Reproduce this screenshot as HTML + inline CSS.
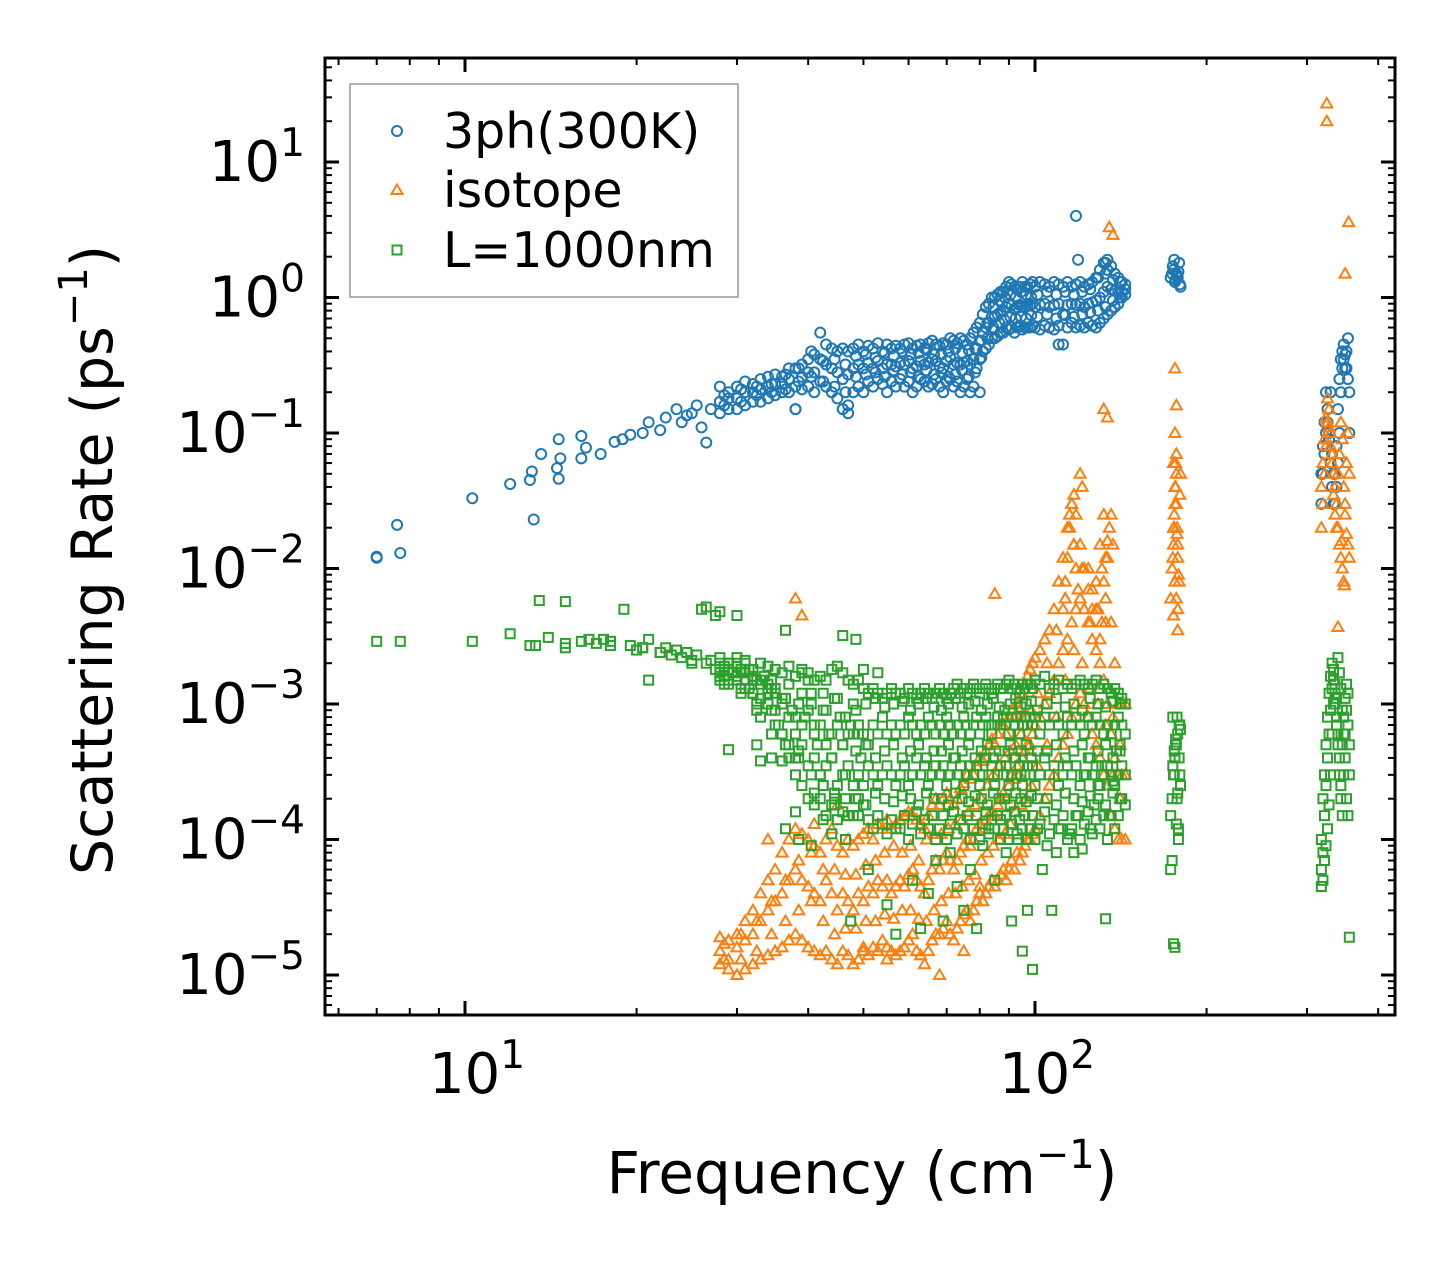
<!DOCTYPE html>
<html><head><meta charset="utf-8">
<style>
body{margin:0;background:#fff;}
svg text{font-family:"DejaVu Sans","Liberation Sans",sans-serif;fill:#000;}
</style></head>
<body>
<svg id="chart" width="1455" height="1265" viewBox="0 0 1455 1265" xmlns="http://www.w3.org/2000/svg">
<rect width="1455" height="1265" fill="#fff"/>
<g id="marks"></g>
<g id="axes"></g>
</svg>
<script>
// ---- shared band frequencies ----
const bandX=[28,29,30,31,32,33,34,35,36,37, 38,39,40,41,42,43,44,45,46,47, 48,49,50,51,52,53,54,55,56,57, 58,59,60,61,62,63,64,65,66,67, 68,69,70,71,72,73,74,75,76,77, 78,79,80,81,82,83,84,85,86,87, 88,89,90,91,92,93,94,95,96,97, 98,99,100,102,104,106,108,110,112,114, 116,118,120,122,124,126,128,130,132,134, 136,138,140,142,144];
const bandX2=[28.5,30.5,32.5,34.5,36.5,38.5,40.5,42.5,44.5,46.5, 48.5,50.5,52.5,54.5,56.5,58.5,60.5,62.5,64.5,66.5, 68.5,70.5,72.5,74.5,76.5,78.5,80.5,82.5,84.5,86.5, 88.5,90.5,92.5,94.5,96.5,98.5, 101,105,109,113,117,121,125,129,133,137,141];
// ---- 3ph(300K) ----
const bSparseX=[7,7,7.6,7.7,10.3,12,13,13.1,13.2,13.6,14.5,14.6,14.6,14.7,16,16,16.3,17.3,18.3,18.9,19.5,20.5,21,22,22.5,23.5,24,24.5,25,25.5,26,26.5,27,38,46,47,80,110,118,119,133,134];
const bSparseY=[.012,.0122,.021,.013,.033,.042,.045,.052,.023,.07,.055,.046,.09,.065,.065,.095,.078,.07,.086,.09,.097,.1,.12,.105,.13,.15,.12,.135,.14,.16,.11,.085,.15,.15,.15,.14,.2,.45,4.0,1.9,1.8,1.6];
const bLow=[.14,.15,.15,.16,.17,.17,.18,.19,.2,.2, .15,.21,.22,.2,.24,.22,.2,.18,.15,.16, .2,.22,.2,.24,.22,.25,.23,.2,.24,.22, .25,.22,.24,.2,.22,.25,.24,.22,.23,.25, .22,.2,.24,.25,.22,.24,.2,.22,.25,.2, .22,.3,.35,.4,.42,.45,.5,.5,.52,.55, .55,.6,.58,.6,.55,.6,.62,.58,.6,.6, .6,.62,.6,.58,.62,.6,.58,.62,.45,.6, .65,.6,.62,.6,.65,.62,.6,.65,.7,.75, .8,.85,.9,1.0,1.05];
const bMid=[.17,.18,.18,.2,.2,.21,.22,.23,.23,.25, .22,.26,.28,.28,.35,.32,.3,.28,.25,.27, .3,.32,.3,.33,.3,.34,.3,.32,.32,.31, .33,.32,.34,.3,.31,.34,.32,.33,.35,.34, .31,.3,.34,.36,.32,.33,.32,.33,.34,.32, .35,.42,.48,.55,.6,.65,.72,.72,.75,.78, .8,.85,.9,.88,.82,.85,.88,.86,.85,.88, .88,.9,.85,.88,.9,.85,.88,.9,.75,.88, .9,.88,.9,.85,.9,.92,.95,1.0,1.1,1.2, 1.15,1.12,1.1,1.1,1.15];
const bHigh=[.22,.2,.22,.24,.23,.25,.26,.27,.26,.3, .3,.32,.35,.38,.55,.45,.42,.4,.42,.4, .42,.45,.4,.44,.42,.46,.4,.45,.42,.44, .42,.45,.46,.42,.44,.45,.42,.46,.48,.45, .44,.46,.45,.5,.48,.46,.5,.48,.45,.5, .55,.6,.65,.75,.85,.9,1.0,1.0,1.05,1.1, 1.1,1.2,1.3,1.25,1.2,1.15,1.2,1.3,1.2,1.2, 1.25,1.3,1.2,1.3,1.25,1.2,1.3,1.25,1.2,1.3, 1.2,1.25,1.3,1.2,1.25,1.3,1.4,1.6,1.8,1.9, 1.7,1.5,1.4,1.3,1.25];
const bQ1=[.16,.17,.19,.2,.21,.24,.26,.24,.22,.2, .26,.27,.28,.26,.29,.27,.28,.26,.29,.27, .28,.26,.27,.29,.26,.28,.36,.5,.6,.65, .68,.72,.7,.72,.7,.74, .72,.75,.7,.74,.72,.75,.78,.8,.85,.95,1.0];
const bQ2=[.19,.21,.22,.23,.27,.3,.4,.34,.35,.32, .37,.38,.36,.39,.37,.4,.38,.39,.41,.38, .38,.4,.42,.39,.41,.42,.48,.65,.85,.95, 1.0,1.05,1.0,1.1,1.05,1.0, 1.05,1.1,1.05,1.1,1.05,1.1,1.15,1.4,1.5,1.35,1.3];
// ---- isotope ----
const ox=[38,39,41,34,45,50,55,62,68,75,80,85,
112,113,114,115,116,117,118,119,113,115,117,120,121,124,126,128,130,131,132,133,134,135,136,137,131,133,135,137,132,134,
175,175.5,176,176.5,177,177.5,178,175,176,177,178,176,177,176,177,175,178,
325,325,350,355,349,340,345];
const oy=[6e-3,4.5e-3,1.3e-4,1e-4,1.8e-4,1.6e-5,1.3e-5,1.5e-5,1e-5,1.5e-5,4.5e-5,6.5e-3,
0.005,0.008,0.012,0.02,0.03,0.015,0.01,0.007,0.006,0.025,0.035,0.05,0.04,0.01,0.007,0.005,0.003,0.004,0.008,0.012,0.016,0.02,0.025,0.015,0.01,0.006,3.3,2.9,0.15,0.13,
0.015,0.02,0.03,0.04,0.05,0.02,0.012,0.06,0.008,0.006,0.005,0.3,0.16,0.1,0.07,0.0045,0.0035,
27,20,1.5,3.6,0.0075,0.0037,0.016];
const oLow=[1.2e-5,1.1e-5,1e-5,1.1e-5,1.2e-5,1.3e-5,1.4e-5,1.5e-5,1.6e-5,1.8e-5, 2e-5,1.8e-5,1.6e-5,1.5e-5,1.4e-5,1.5e-5,1.3e-5,1.2e-5,1.5e-5,1.4e-5, 1.2e-5,1.3e-5,1.5e-5,1.4e-5,1.6e-5,1.5e-5,1.8e-5,1.6e-5,1.5e-5,1.4e-5, 1.5e-5,1.6e-5,1.8e-5,2e-5,1.5e-5,1.4e-5,1.2e-5,1.5e-5,1.8e-5,2e-5, 2e-5,2.2e-5,2.5e-5,2e-5,1.8e-5,2.2e-5,2.5e-5,2.8e-5,3e-5,2.5e-5, 3e-5,3.5e-5,4e-5,3.5e-5,4e-5,4.5e-5,5e-5,4.5e-5,5e-5,5.5e-5, 6e-5,5e-5,6e-5,7e-5,6e-5,8e-5,7e-5,8e-5,9e-5,1e-4, 1e-4,1.1e-4,1.2e-4,1.5e-4,2e-4,2.5e-4,3e-4,4e-4,5e-4,6e-4, 8e-4,1e-3,1.2e-3,1e-3,8e-4,6e-4,5e-4,4e-4,3e-4,2.5e-4, 1.5e-4,1.2e-4,1e-4,1e-4,1e-4];
const oMid=[1.5e-5,1.3e-5,1.6e-5,1.8e-5,2e-5,2.5e-5,3e-5,3.5e-5,4e-5,5e-5, 6e-5,5e-5,4.5e-5,4e-5,3.5e-5,5e-5,4e-5,3e-5,4e-5,3.5e-5, 3e-5,4e-5,3.5e-5,4.5e-5,4e-5,5e-5,4.5e-5,5e-5,4e-5,4.5e-5, 5e-5,4.5e-5,5.5e-5,6e-5,5e-5,4.5e-5,4e-5,5e-5,6e-5,7e-5, 6e-5,7e-5,8e-5,7e-5,6e-5,7e-5,8e-5,9e-5,1e-4,9e-5, 1e-4,1.2e-4,1.3e-4,1.2e-4,1.4e-4,1.5e-4,1.6e-4,1.5e-4,1.8e-4,2e-4, 2.2e-4,2e-4,2.5e-4,3e-4,2.8e-4,3.5e-4,3e-4,4e-4,4.5e-4,5e-4, 5e-4,6e-4,7e-4,8e-4,1e-3,1.2e-3,1.5e-3,2e-3,2.5e-3,3e-3, 4e-3,5e-3,6e-3,5e-3,4e-3,3e-3,2.5e-3,2e-3,1.5e-3,1e-3, 6e-4,4e-4,3e-4,3e-4,3e-4];
const oHigh=[1.9e-5,1.8e-5,2e-5,2.5e-5,3e-5,4e-5,5e-5,6e-5,8e-5,1e-4, 1.2e-4,1.1e-4,1e-4,9e-5,8e-5,1e-4,1.2e-4,9e-5,8e-5,1e-4, 9e-5,1e-4,1.1e-4,1.2e-4,1e-4,1.3e-4,1.2e-4,1.4e-4,1.2e-4,1.3e-4, 1.4e-4,1.5e-4,1.6e-4,1.5e-4,1.4e-4,1.3e-4,1.2e-4,1.5e-4,1.8e-4,2e-4, 1.8e-4,2e-4,2.2e-4,2e-4,1.8e-4,2e-4,2.4e-4,2.6e-4,3e-4,2.8e-4, 3e-4,3.5e-4,4e-4,3.8e-4,4.5e-4,5e-4,5.5e-4,5e-4,6e-4,7e-4, 7e-4,6e-4,8e-4,9e-4,8e-4,1e-3,9e-4,1.2e-3,1.4e-3,1.6e-3, 1.8e-3,2e-3,2.2e-3,2.5e-3,3e-3,3.5e-3,5e-3,8e-3,1.2e-2,2e-2, 3e-2,2.5e-2,1.5e-2,1e-2,7e-3,5e-3,8e-3,1.5e-2,2.5e-2,1.2e-2, 4e-3,2e-3,1e-3,1e-3,1e-3];
const oQ1=[1.3e-5,1.3e-5,1.5e-5,2e-5,2.5e-5,3e-5,3.5e-5,2.5e-5,2e-5,2.2e-5, 2.2e-5,2.5e-5,2.5e-5,2.8e-5,2.6e-5,3e-5,3e-5,2.6e-5,2.5e-5,3e-5, 3.5e-5,4e-5,4e-5,4.5e-5,5e-5,5.5e-5,7e-5,8e-5,9e-5,1e-4, 1.1e-4,1.3e-4,1.6e-4,1.8e-4,2e-4,2.5e-4, 3.5e-4,5e-4,8e-4,1.5e-3,2.5e-3,2e-3,1.3e-3,1e-3,7e-4,3e-4,2e-4];
const oQ2=[1.7e-5,2e-5,2.5e-5,3.5e-5,5e-5,7e-5,8e-5,6e-5,6e-5,5.5e-5, 5.5e-5,6.5e-5,7e-5,8e-5,9e-5,8e-5,9e-5,7e-5,1e-4,1.1e-4, 1.1e-4,1.2e-4,1.3e-4,1.4e-4,1.6e-4,1.8e-4,2e-4,2.5e-4,3e-4,3.5e-4, 4e-4,4.5e-4,5e-4,6e-4,8e-4,9e-4, 1.2e-3,2e-3,3.5e-3,6e-3,1.5e-2,1e-2,4e-3,5e-3,4e-3,8e-4,5e-4];
// ---- L=1000nm ----
const gx=[7,7.7,10.3,12,13,13.5,14,15,15,16,16.5,17,17.5,18,19,19.5,20,20.5,21,21,22,22.5,23,23.5,24,24.5,25,25.5,26,26.5,27,27.5,28,28.5,29,29.5,30,30.5,31,31.5,32,32.5,33,33.5,34,34.5,35,35.5,36,36.5,37,37.5,38,38.5,39,39.5,40,40.5,41,41.5,42,42.5,43,43.5,44,44.5,45,45.5,46,46.5,47,47.5,48,48.5,49,49.5,50,
13.3,15,18,20.5,22,25,26.5,27.5,28,29,30,31.5,33,34.5,36,38,39,41,42.5,44,46,47.5,49,51,53,55,57,59,61,63,65,67,69,71,73,75,77,79,81,83,85,87,89,91,93,95,97,99,101,103,105,107,109,111,113,115,117,119,121,123,125,127,129,131,133,135,137,139,141];
const gy=[2.9e-3,2.9e-3,2.9e-3,3.3e-3,2.7e-3,5.8e-3,3.1e-3,2.8e-3,5.7e-3,2.9e-3,3e-3,2.8e-3,3e-3,2.9e-3,5e-3,2.7e-3,2.5e-3,2.6e-3,1.5e-3,3e-3,2.4e-3,2.6e-3,2.3e-3,2.5e-3,2.2e-3,2.4e-3,2e-3,2.3e-3,5e-3,2e-3,2.1e-3,1.8e-3,4.8e-3,1.9e-3,2e-3,1.7e-3,4.5e-3,1.8e-3,1.5e-3,1.3e-3,1.2e-3,1e-3,8e-4,1.6e-3,1.2e-3,9e-4,1.3e-3,7e-4,1.1e-3,3.5e-3,1.4e-3,9e-4,6e-4,4e-4,1.2e-3,8e-4,1.5e-3,1e-3,7e-4,5e-4,3e-4,1.2e-3,9e-4,6e-4,4e-4,2e-4,1.1e-3,8e-4,5e-4,3e-4,1.5e-4,7e-4,1e-3,3e-3,6e-4,4e-4,1.8e-3,
2.7e-3,2.6e-3,2.7e-3,2.6e-3,2.4e-3,2.1e-3,5.2e-3,4.5e-3,2.2e-3,4.6e-4,2e-3,1.8e-3,3.8e-4,1.5e-3,3.8e-4,1.6e-4,1.7e-3,2.2e-4,1.4e-4,1.1e-4,3.2e-3,2.5e-5,1.5e-4,6e-5,1.7e-3,3.3e-5,2e-5,1.5e-4,5e-5,2.2e-5,4e-5,7e-5,2.5e-5,8e-5,4.5e-5,3e-5,6e-5,2.2e-5,9e-5,1.2e-4,5e-5,1.4e-4,8e-5,2.5e-5,1e-4,1.5e-5,3e-5,1.1e-5,1.2e-4,6e-5,9e-5,3e-5,8e-5,1.2e-4,2.2e-4,1.1e-4,8e-5,1.5e-4,8.5e-5,3e-4,1.2e-4,1.8e-4,2.5e-4,3.5e-4,2.6e-5,1.5e-4,2.7e-4,4.5e-4,5e-4];
const gHigh=[2e-3,2e-3,1.9e-3,2e-3,1.8e-3,2e-3,1.9e-3,1.8e-3,1.7e-3,1.9e-3, 1.6e-3,1.8e-3,1.7e-3,1.5e-3,1.6e-3,1.5e-3,1.8e-3,1.9e-3,1.7e-3,1.5e-3, 1.4e-3,1.5e-3,1.3e-3,1.2e-3,1.3e-3,1.2e-3,1.1e-3,1.2e-3,1.3e-3,1.2e-3, 1.2e-3,1.1e-3,1.3e-3,1.2e-3,1.1e-3,1.2e-3,1.3e-3,1.2e-3,1.1e-3,1.2e-3, 1.3e-3,1.2e-3,1.1e-3,1.2e-3,1.3e-3,1.4e-3,1.2e-3,1.3e-3,1.2e-3,1.3e-3, 1.4e-3,1.3e-3,1.2e-3,1.3e-3,1.4e-3,1.3e-3,1.2e-3,1.3e-3,1.4e-3,1.3e-3, 1.3e-3,1.4e-3,1.5e-3,1.3e-3,1.4e-3,1.3e-3,1.2e-3,1.4e-3,1.3e-3,1.4e-3, 1.4e-3,1.3e-3,1.5e-3,1.4e-3,1.6e-3,1.3e-3,1.4e-3,1.5e-3,1.3e-3,1.4e-3, 1.3e-3,1.4e-3,1.5e-3,1.4e-3,1.3e-3,1.4e-3,1.5e-3,1.3e-3,1.4e-3,1.3e-3, 1.2e-3,1.3e-3,1.2e-3,1.1e-3,1.0e-3];
const gMid=[1.5e-3,1.4e-3,1.5e-3,1.3e-3,1.2e-3,1.1e-3,1e-3,9e-4,1e-3,8e-4, 8e-4,7e-4,9e-4,6e-4,7e-4,5e-4,6e-4,7e-4,5e-4,6e-4, 6e-4,7e-4,6e-4,5e-4,7e-4,6e-4,8e-4,6e-4,7e-4,6e-4, 7e-4,6e-4,8e-4,7e-4,6e-4,7e-4,6e-4,8e-4,7e-4,6e-4, 7e-4,6e-4,8e-4,7e-4,6e-4,7e-4,6e-4,8e-4,7e-4,6e-4, 7e-4,8e-4,6e-4,7e-4,8e-4,7e-4,6e-4,7e-4,8e-4,7e-4, 8e-4,7e-4,6e-4,8e-4,7e-4,8e-4,6e-4,7e-4,8e-4,7e-4, 8e-4,7e-4,8e-4,6e-4,8e-4,7e-4,8e-4,7e-4,6e-4,8e-4, 7e-4,8e-4,7e-4,6e-4,8e-4,7e-4,8e-4,7e-4,6e-4,7e-4, 6e-4,7e-4,8e-4,7e-4,6e-4];
const gMid2=[1.7e-3,1.8e-3,1.6e-3,1.7e-3,1.5e-3,1.4e-3,1.3e-3,1.2e-3,6e-4,5e-4, 4e-4,5e-4,3.5e-4,4e-4,3e-4,3.5e-4,4e-4,2.5e-4,3e-4,3.5e-4, 2.5e-4,3e-4,2.5e-4,3.5e-4,3e-4,2.5e-4,3e-4,3.5e-4,3e-4,2.5e-4, 3e-4,3.5e-4,2.5e-4,3e-4,4e-4,3e-4,3.5e-4,2.5e-4,3e-4,3.5e-4, 3e-4,3.5e-4,2.5e-4,3e-4,4e-4,3e-4,3.5e-4,2.5e-4,3e-4,3.5e-4, 3e-4,3.5e-4,2.5e-4,3e-4,4e-4,3e-4,3.5e-4,2.5e-4,3e-4,3.5e-4, 3e-4,3.5e-4,2.5e-4,3e-4,4e-4,3e-4,3.5e-4,2.5e-4,3e-4,3.5e-4, 3e-4,3.5e-4,2.5e-4,3e-4,4e-4,3e-4,3.5e-4,2.5e-4,3e-4,3.5e-4, 3e-4,3.5e-4,2.5e-4,3e-4,4e-4,3e-4,3.5e-4,2.5e-4,3e-4,3.5e-4, 3e-4,2.5e-4,3e-4,3.5e-4,3e-4];
const gLow=[1.6e-3,1.5e-3,2.2e-3,2.1e-3,1.6e-3,1.5e-3,1.4e-3,7e-4,6e-4,4e-4, 3e-4,2.5e-4,2e-4,1.8e-4,2e-4,1.5e-4,1.8e-4,1.4e-4,1.6e-4,1.5e-4, 1.5e-4,2e-4,1.8e-4,1.4e-4,1.2e-4,1.5e-4,1.3e-4,1.1e-4,1.4e-4,1.2e-4, 1.2e-4,1.5e-4,1e-4,1.3e-4,1.6e-4,1.1e-4,1.4e-4,1.2e-4,1.5e-4,1e-4, 1.2e-4,1.5e-4,1e-4,1.3e-4,1.6e-4,1.1e-4,1.4e-4,1.2e-4,1.5e-4,1e-4, 1.2e-4,1.5e-4,1e-4,1.3e-4,1.6e-4,1.1e-4,1.4e-4,1.2e-4,1.5e-4,1e-4, 1.2e-4,1.5e-4,1e-4,1.3e-4,1.6e-4,1.1e-4,1.4e-4,1.2e-4,1.5e-4,1e-4, 1.2e-4,1.5e-4,1e-4,1.3e-4,1.6e-4,1.1e-4,1.4e-4,1.2e-4,1.5e-4,1e-4, 1.2e-4,1.5e-4,1e-4,1.3e-4,1.6e-4,1.1e-4,1.4e-4,1.2e-4,1.5e-4,1e-4, 1.5e-4,1.2e-4,1.5e-4,2e-4,1.8e-4];
const gQ1=[1.8e-3,1.7e-3,1.5e-3,1.3e-3,1.1e-3,1e-3,1.2e-3,9e-4,1.1e-3,8e-4, 9e-4,1e-3,1.1e-3,9.5e-4,1e-3,1.05e-3,9e-4,1e-3,1.1e-3,9.5e-4, 9e-4,1e-3,1.1e-3,9.5e-4,1e-3,1.05e-3,9e-4,1e-3,1.1e-3,9.5e-4, 9e-4,1e-3,1.1e-3,9.5e-4,1e-3,1.05e-3, 9e-4,1e-3,1.1e-3,9.5e-4,1e-3,9e-4,1.1e-3,1e-3,9.5e-4,1.05e-3,1e-3];
const gQ2=[1.4e-3,1.2e-3,9e-4,6e-4,5e-4,4.5e-4,3e-4,2.5e-4,2.2e-4,2e-4, 4.5e-4,5e-4,4e-4,4.5e-4,5e-4,4e-4,4.5e-4,5e-4,4e-4,4.5e-4, 4.5e-4,5e-4,4e-4,4.5e-4,5e-4,4e-4,4.5e-4,5e-4,4e-4,4.5e-4, 4.5e-4,5e-4,4e-4,4.5e-4,5e-4,4e-4, 4.5e-4,4.5e-4,5e-4,4e-4,4.5e-4,5e-4,4e-4,4.5e-4,5e-4,4e-4,4.5e-4];
const gQ3=[1.6e-3,1.3e-3,5e-4,4e-4,1.2e-4,1e-4,9e-5,2.5e-4,1.8e-4,1e-4, 2e-4,1.8e-4,2.2e-4,2e-4,1.9e-4,2.1e-4,2e-4,1.8e-4,2.2e-4,2e-4, 2e-4,1.8e-4,2.2e-4,2e-4,1.9e-4,2.1e-4,2e-4,1.8e-4,2.2e-4,2e-4, 2e-4,1.8e-4,2.2e-4,2e-4,1.9e-4,2.1e-4, 2e-4,2e-4,1.8e-4,2.2e-4,2e-4,1.9e-4,2.1e-4,2e-4,1.8e-4,2.2e-4,2e-4];
// ---- cluster near 177 cm^-1 ----
const c175X=[173,174,175,176,177,178,179,180,174.5,175.5,176.5,177.5,178.5,179.5];
const b175=[1.4,1.5,1.6,1.3,1.5,1.4,1.8,1.2,1.7,1.9,1.35,1.45,1.55,1.25];
const o175=[0.006,0.01,0.02,0.04,0.03,0.015,0.008,0.05,0.012,0.025,0.06,0.018,0.009,0.035];
const g175=[1.5e-4,2e-4,3e-4,4e-4,5e-4,6e-4,7e-4,2.5e-4,3.5e-4,4.5e-4,5.5e-4,8e-4,1.2e-4,3e-4];
const g175b=[6e-5,7e-5,1.7e-5,1.6e-5,1.3e-4,2.2e-4,4e-4,6.5e-4,8e-4,3e-4,5e-4,2e-4,1e-4,7e-4];
// ---- cluster near 335 cm^-1 ----
const c340X=[318,320,322,324,326,328,330,332,334,336,338,340,342,344,346,348,350,352,354,356];
const b340a=[0.05,0.08,0.12,0.2,0.15,0.1,0.06,0.04,0.03,0.05,0.08,0.15,0.25,0.35,0.4,0.45,0.38,0.3,0.25,0.2];
const b340b=[0.03,0.05,0.07,0.1,0.12,0.09,0.2,0.07,0.05,0.03,0.04,0.06,0.1,0.2,0.3,0.35,0.3,0.4,0.5,0.1];
const o340a=[0.02,0.03,0.05,0.08,0.12,0.15,0.1,0.07,0.05,0.04,0.03,0.02,0.015,0.012,0.01,0.008,0.03,0.06,0.1,0.05];
const o340b=[0.04,0.06,0.09,0.13,0.18,0.11,0.08,0.06,0.035,0.025,0.02,0.05,0.07,0.12,0.09,0.04,0.025,0.018,0.015,0.012];
const g340a=[1e-4,2e-4,3e-4,5e-4,8e-4,1.2e-3,1.6e-3,2e-3,1.5e-3,1e-3,7e-4,5e-4,3e-4,2e-4,1.5e-4,3e-4,6e-4,9e-4,1.2e-3,5e-4];
const g340b=[6e-5,8e-5,1.5e-4,2.5e-4,4e-4,6e-4,9e-4,1.3e-3,1.8e-3,1.2e-3,8e-4,6e-4,4e-4,2.5e-4,5e-4,8e-4,1.1e-3,1.4e-3,7e-4,3e-4];
const g340c=[4.5e-5,5e-5,7e-5,9e-5,1.2e-4,1.8e-4,3e-4,6e-4,1e-3,1.4e-3,1.1e-3,2.2e-3,1.7e-3,1.3e-3,9e-4,6e-4,4e-4,2e-4,1.5e-4,1.9e-5];
// ---- axes config ----
const yTickExps=[1,0,-1,-2,-3,-4,-5];
const xTickExps=[1,2];
</script>
<script>
const NS='http://www.w3.org/2000/svg';
const L=325,R=1395,T=58,B=1015;
const X0=465,XD=570;
const Y0=162,YD=135.5;
function sx(v){return X0+(Math.log10(v)-1)*XD;}
function sy(v){return Y0-(Math.log10(v)-1)*YD;}
function mk(tag,attrs,parent){const e=document.createElementNS(NS,tag);for(const k in attrs)e.setAttribute(k,attrs[k]);parent.appendChild(e);return e;}
const marks=document.getElementById('marks');
const axes=document.getElementById('axes');
const clip=mk('clipPath',{id:'pc'},document.getElementById('chart'));
mk('rect',{x:L,y:T,width:R-L,height:B-T},clip);
marks.setAttribute('clip-path','url(#pc)');
function circ(x,y,c,g){return mk('circle',{cx:x,cy:y,r:5,fill:'none',stroke:c,'stroke-width':2},g);}
function tri(x,y,c,g){return mk('polygon',{points:`${x},${y-5.5} ${x-5.5},${y+4} ${x+5.5},${y+4}`,fill:'none',stroke:c,'stroke-width':2},g);}
function sq(x,y,c,g){return mk('rect',{x:x-4.5,y:y-4.5,width:9,height:9,fill:'none',stroke:c,'stroke-width':2},g);}
const gB=mk('g',{},marks);


const gO=mk('g',{},marks);


const gG=mk('g',{},marks);


function plot(xs,ys,fn,color,g,name){const n=Math.min(xs.length,ys.length);for(let i=0;i<n;i++){const e=fn(sx(xs[i]),sy(ys[i]),color,g);

}}
const BC='#1f77b4',OC='#ff7f0e',GC='#2ca02c';
plot(bSparseX,bSparseY,circ,BC,gB,'point-3ph');
plot(bandX,bLow,circ,BC,gB,'point-3ph');
plot(bandX,bMid,circ,BC,gB,'point-3ph');
plot(bandX,bHigh,circ,BC,gB,'point-3ph');
plot(bandX2,bQ1,circ,BC,gB,'point-3ph');
plot(bandX2,bQ2,circ,BC,gB,'point-3ph');
plot(c175X,b175,circ,BC,gB,'point-3ph');
plot(c340X,b340a,circ,BC,gB,'point-3ph');
plot(c340X,b340b,circ,BC,gB,'point-3ph');
plot(ox,oy,tri,OC,gO,'point-isotope');
plot(bandX,oLow,tri,OC,gO,'point-isotope');
plot(bandX,oMid,tri,OC,gO,'point-isotope');
plot(bandX,oHigh,tri,OC,gO,'point-isotope');
plot(bandX2,oQ1,tri,OC,gO,'point-isotope');
plot(bandX2,oQ2,tri,OC,gO,'point-isotope');
plot(c175X,o175,tri,OC,gO,'point-isotope');
plot(c340X,o340a,tri,OC,gO,'point-isotope');
plot(c340X,o340b,tri,OC,gO,'point-isotope');
plot(gx,gy,sq,GC,gG,'point-l1000nm');
plot(bandX,gHigh,sq,GC,gG,'point-l1000nm');
plot(bandX,gMid,sq,GC,gG,'point-l1000nm');
plot(bandX,gMid2,sq,GC,gG,'point-l1000nm');
plot(bandX,gLow,sq,GC,gG,'point-l1000nm');
plot(bandX2,gQ1,sq,GC,gG,'point-l1000nm');
plot(bandX2,gQ2,sq,GC,gG,'point-l1000nm');
plot(bandX2,gQ3,sq,GC,gG,'point-l1000nm');
plot(c175X,g175,sq,GC,gG,'point-l1000nm');
plot(c175X,g175b,sq,GC,gG,'point-l1000nm');
plot(c340X,g340a,sq,GC,gG,'point-l1000nm');
plot(c340X,g340b,sq,GC,gG,'point-l1000nm');
plot(c340X,g340c,sq,GC,gG,'point-l1000nm');
const fr=mk('rect',{x:L,y:T,width:R-L,height:B-T,fill:'none',stroke:'#000','stroke-width':3},axes);


for(let e=-6;e<=2;e++){for(let m=1;m<10;m++){const v=m*Math.pow(10,e);const y=sy(v);if(y<T+1||y>B-1)continue;const len=m===1?14:7,w=m===1?3:2;
mk('line',{x1:L,y1:y,x2:L+len,y2:y,stroke:'#000','stroke-width':w},axes);
mk('line',{x1:R,y1:y,x2:R-len,y2:y,stroke:'#000','stroke-width':w},axes);}}
for(let e=0;e<=3;e++){for(let m=1;m<10;m++){const v=m*Math.pow(10,e);const x=sx(v);if(x<L+1||x>R-1)continue;const len=m===1?14:7,w=m===1?3:2;
mk('line',{x1:x,y1:B,x2:x,y2:B-len,stroke:'#000','stroke-width':w},axes);
mk('line',{x1:x,y1:T,x2:x,y2:T+len,stroke:'#000','stroke-width':w},axes);}}
yTickExps.forEach(e=>{const t=mk('text',{x:305,y:sy(Math.pow(10,e))+19,'font-size':56,'text-anchor':'end'},axes);


t.innerHTML='10<tspan dy="-25" font-size="39">'+(e<0?'\u2212'+(-e):e)+'</tspan>';});
xTickExps.forEach(e=>{const t=mk('text',{x:sx(Math.pow(10,e))+12,y:1093,'font-size':56,'text-anchor':'middle'},axes);


t.innerHTML='10<tspan dy="-25" font-size="39">'+e+'</tspan>';});
const xt=mk('text',{x:862,y:1193,'font-size':58,'text-anchor':'middle'},axes);


xt.innerHTML='Frequency (cm<tspan dy="-25" font-size="40">\u22121</tspan><tspan dy="25">)</tspan>';
const yt=mk('text',{x:0,y:0,'font-size':57,'text-anchor':'middle',transform:'translate(112,560) rotate(-90)'},axes);


yt.innerHTML='Scattering Rate (ps<tspan dy="-25" font-size="40">\u22121</tspan><tspan dy="25">)</tspan>';
const lg=mk('g',{},axes);


mk('rect',{x:350,y:84,width:388,height:213,fill:'#fff',stroke:'#999','stroke-width':1.5},lg);
const items=[['3ph(300K)',BC,circ,131],['isotope',OC,tri,190],['L=1000nm',GC,sq,250]];
items.forEach(it=>{const m=it[2](397,it[3],it[1],lg);


const t=mk('text',{x:443,y:it[3]+17,'font-size':49},lg);


t.textContent=it[0];});
</script>
</body></html>
